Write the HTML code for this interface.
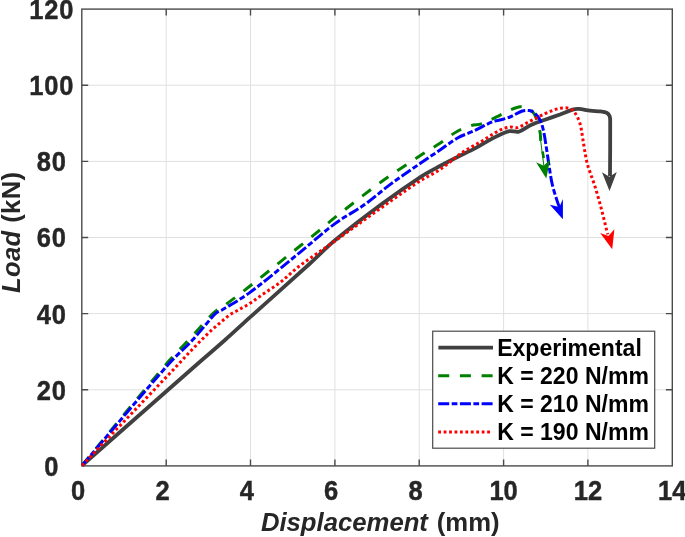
<!DOCTYPE html>
<html><head><meta charset="utf-8"><title>Load vs Displacement</title>
<style>html,body{margin:0;padding:0;background:#fff}svg{display:block}</style></head><body>
<svg width="685" height="537" viewBox="0 0 685 537">
<rect width="685" height="537" fill="#fff"/>
<g stroke="#e0e0e0" stroke-width="1"><line x1="166.2" y1="9.1" x2="166.2" y2="465.9"/><line x1="250.5" y1="9.1" x2="250.5" y2="465.9"/><line x1="334.9" y1="9.1" x2="334.9" y2="465.9"/><line x1="419.2" y1="9.1" x2="419.2" y2="465.9"/><line x1="503.6" y1="9.1" x2="503.6" y2="465.9"/><line x1="587.9" y1="9.1" x2="587.9" y2="465.9"/><line x1="81.8" y1="389.8" x2="672.3" y2="389.8"/><line x1="81.8" y1="313.6" x2="672.3" y2="313.6"/><line x1="81.8" y1="237.5" x2="672.3" y2="237.5"/><line x1="81.8" y1="161.4" x2="672.3" y2="161.4"/><line x1="81.8" y1="85.2" x2="672.3" y2="85.2"/></g>
<path d="M166.2,465.9 v-6.4 M166.2,9.1 v6.4 M250.5,465.9 v-6.4 M250.5,9.1 v6.4 M334.9,465.9 v-6.4 M334.9,9.1 v6.4 M419.2,465.9 v-6.4 M419.2,9.1 v6.4 M503.6,465.9 v-6.4 M503.6,9.1 v6.4 M587.9,465.9 v-6.4 M587.9,9.1 v6.4 M81.8,389.8 h6.4 M672.3,389.8 h-6.4 M81.8,313.6 h6.4 M672.3,313.6 h-6.4 M81.8,237.5 h6.4 M672.3,237.5 h-6.4 M81.8,161.4 h6.4 M672.3,161.4 h-6.4 M81.8,85.2 h6.4 M672.3,85.2 h-6.4" stroke="#4a4a4a" stroke-width="1.4" fill="none"/>
<rect x="81.8" y="9.1" width="590.5" height="456.8" fill="none" stroke="#4a4a4a" stroke-width="1.4"/>
<g fill="none" stroke-linejoin="round">
<path d="M82.0,465.5 C120.5,431.7 158.9,397.8 197.4,364.0 C206.6,356.0 215.9,348.1 225.0,340.0 C233.4,332.6 241.6,324.9 249.9,317.4 C269.9,299.4 290.1,281.6 310.0,263.5 C318.4,255.9 326.2,247.5 335.0,240.3 C350.4,227.6 366.3,215.5 382.4,203.6 C394.7,194.5 407.2,185.7 420.0,177.3 C426.4,173.1 433.3,169.6 440.0,166.0 C445.8,162.9 451.6,159.9 457.5,157.0 C463.3,154.1 469.3,151.4 475.0,148.4 C481.0,145.2 486.6,141.4 492.6,138.4 C498.0,135.7 503.4,132.7 509.2,131.2 C512.3,130.4 515.7,132.6 518.8,131.7 C523.3,130.4 526.8,126.9 531.0,125.0 C535.5,122.9 540.3,121.5 545.0,119.8 C550.0,118.0 555.0,116.3 560.0,114.5 C564.2,112.9 568.3,110.9 572.6,109.6 C574.6,109.0 576.7,108.8 578.7,108.9 C582.5,109.1 586.2,110.3 590.0,110.7 C593.5,111.1 597.1,111.0 600.6,111.4 C602.7,111.7 604.9,111.8 606.7,112.8 C608.1,113.5 609.1,114.9 609.7,116.3 C610.3,117.9 610.2,119.8 610.2,121.5 C610.3,139.7 610.1,157.8 610.0,176.0" stroke="#404040" stroke-width="3.8"/>
<path d="M82.0,465.5 C110.1,431.7 137.8,397.5 166.3,364.0 C173.4,355.7 181.3,348.0 188.7,340.0 C196.6,331.4 204.4,322.5 212.4,314.0 C213.6,312.7 215.0,311.4 216.5,310.4 C217.9,309.4 219.6,309.0 221.0,308.0 C230.8,300.9 240.5,293.5 250.0,286.0 C266.8,272.8 283.3,259.3 300.0,246.0 C306.7,240.7 313.4,235.4 320.0,230.0 C325.1,225.9 329.9,221.4 335.0,217.4 C350.7,205.1 366.3,192.7 382.4,181.0 C394.6,172.1 407.4,164.1 420.0,155.8 C426.6,151.5 433.4,147.5 440.0,143.2 C445.9,139.3 451.3,134.6 457.5,131.2 C462.5,128.5 467.9,126.7 473.3,125.0 C475.5,124.3 478.1,125.0 480.3,124.2 C485.7,122.3 490.8,119.7 496.0,117.2 C500.7,114.9 505.2,112.2 510.0,110.0 C512.2,109.0 514.6,108.2 517.0,107.5 C518.5,107.1 520.0,106.6 521.5,106.6 C523.3,106.5 525.4,106.2 527.0,107.2 C530.0,109.0 533.0,111.4 534.6,114.5 C537.4,119.9 538.6,126.1 540.0,132.0 C540.7,134.9 540.5,137.9 540.7,140.8" stroke="#008000" stroke-width="3" stroke-dasharray="11 10.7"/>
<path d="M540.7,140.8 L544,167" stroke="#008000" stroke-width="1"/>
<path d="M542.6,151.5 L543.7,158" stroke="#008000" stroke-width="2.6"/>
<path d="M82.0,465.5 C110.9,431.7 139.3,397.4 168.7,364.0 C176.1,355.5 184.9,348.3 192.5,340.0 C200.0,331.9 206.7,323.2 214.0,315.0 C215.0,313.9 216.2,312.8 217.5,312.0 C218.9,311.1 220.6,310.8 222.0,310.0 C231.4,304.3 241.1,299.0 250.0,292.4 C267.2,279.7 283.4,265.7 300.0,252.3 C311.7,242.8 322.9,232.6 335.0,223.6 C344.6,216.5 355.3,211.2 365.0,204.3 C373.7,198.2 381.5,190.9 390.0,184.6 C399.8,177.3 410.0,170.5 420.0,163.6 C426.6,159.0 433.3,154.5 440.0,150.0 C445.8,146.0 451.3,141.5 457.5,138.0 C463.0,134.9 469.2,133.1 475.0,130.4 C480.9,127.6 486.5,124.2 492.6,121.7 C495.4,120.6 498.4,120.5 501.3,119.7 C504.2,118.9 507.2,118.2 510.0,117.0 C514.2,115.3 518.0,112.4 522.3,111.0 C524.5,110.3 527.0,110.2 529.3,110.6 C531.2,110.9 533.1,111.9 534.6,113.2 C536.7,115.0 538.6,117.3 539.9,119.8 C541.6,123.1 542.6,126.7 543.4,130.3 C544.9,137.2 545.8,144.3 546.9,151.3 C547.8,157.1 548.6,163.0 549.5,168.8 C550.4,174.2 551.1,179.7 552.4,185.0 C553.8,191.0 555.8,196.8 557.7,202.6 C558.2,204.1 558.8,205.5 559.4,207.0" stroke="#0000ff" stroke-width="3" stroke-dasharray="11 2.5 5.7 2.5"/>
<path d="M82.0,465.5 C114.2,431.7 146.5,397.9 178.7,364.0 C182.9,359.6 186.9,354.9 191.2,350.5 C197.3,344.2 203.4,337.9 209.8,331.8 C213.6,328.2 217.7,324.8 221.7,321.4 C224.6,318.9 227.5,316.4 230.7,314.2 C233.5,312.3 236.7,311.0 239.6,309.3 C243.1,307.3 246.6,305.5 250.0,303.3 C254.6,300.3 259.0,296.9 263.5,293.8 C269.0,290.0 274.7,286.6 280.0,282.5 C286.9,277.2 293.0,270.9 300.0,265.6 C311.4,257.0 323.4,249.3 335.0,241.0 C350.8,229.7 366.5,218.2 382.4,207.0 C394.8,198.2 407.2,189.3 420.0,181.0 C426.4,176.8 433.6,173.8 440.0,169.5 C447.9,164.2 454.9,157.5 462.8,152.2 C469.5,147.7 476.8,144.1 483.8,140.0 C489.1,136.8 494.1,133.0 499.6,130.3 C502.9,128.7 506.4,127.5 510.0,127.0 C512.3,126.7 514.8,128.4 517.0,127.7 C522.0,126.2 526.3,123.0 531.0,120.7 C535.7,118.4 540.3,115.9 545.0,113.7 C548.3,112.2 551.6,110.7 555.0,109.6 C557.3,108.8 559.6,108.3 562.0,108.0 C563.8,107.8 565.6,107.7 567.3,108.0 C569.2,108.4 571.2,108.9 572.6,110.1 C574.5,111.7 575.8,114.1 577.0,116.3 C578.4,119.1 579.7,122.0 580.4,125.0 C581.8,130.8 582.4,136.7 583.4,142.6 C584.4,148.4 585.2,154.2 586.4,160.0 C586.9,162.5 587.6,165.0 588.4,167.5 C590.3,173.4 592.6,179.1 594.5,185.0 C596.7,191.9 598.7,199.0 600.6,206.0 C603.1,215.4 605.3,224.9 607.7,234.4" stroke="#ff0000" stroke-width="3" stroke-dasharray="2.8 2.64"/>
</g>
<polygon points="609.5,191 602,172.3 609.4,176.8 616.8,172" fill="#404040"/>
<polygon points="546.3,178.4 536.1,162.3 543.7,165.8 550.1,159.6" fill="#008000"/>
<polygon points="562.9,219.2 549.8,204.7 559.4,207 562.9,199" fill="#0000ff"/>
<polygon points="612.2,249.3 600.2,232.9 608.4,235.9 614.4,229.2" fill="#ff0000"/>
<g font-family="Liberation Sans, Arial, Helvetica, sans-serif" font-weight="bold" font-size="28.2" fill="#262626" stroke="#262626" stroke-width="0.45" text-anchor="middle">
<text transform="translate(78.1,500) scale(0.905,1)">0</text>
<text transform="translate(162.5,500) scale(0.905,1)">2</text>
<text transform="translate(246.8,500) scale(0.905,1)">4</text>
<text transform="translate(331.2,500) scale(0.905,1)">6</text>
<text transform="translate(415.5,500) scale(0.905,1)">8</text>
<text transform="translate(503.6,500) scale(0.905,1)">10</text>
<text transform="translate(587.9,500) scale(0.905,1)">12</text>
<text transform="translate(672.3,500) scale(0.905,1)">14</text>
<text transform="translate(51.3,475.8) scale(0.905,1)" letter-spacing="0">0</text>
<text transform="translate(51.8,399.7) scale(0.905,1)" letter-spacing="0.9">20</text>
<text transform="translate(51.8,323.5) scale(0.905,1)" letter-spacing="0.9">40</text>
<text transform="translate(51.8,247.4) scale(0.905,1)" letter-spacing="0.9">60</text>
<text transform="translate(51.8,171.3) scale(0.905,1)" letter-spacing="0.9">80</text>
<text transform="translate(51.8,95.1) scale(0.905,1)" letter-spacing="0.9">100</text>
<text transform="translate(51.8,19.0) scale(0.905,1)" letter-spacing="0.9">120</text>
</g>
<text x="260.9" y="531" font-family="Liberation Sans, Arial, Helvetica, sans-serif" font-weight="bold" font-size="25.7" fill="#262626"><tspan font-style="italic">Displacement</tspan><tspan dx="1.7"> (mm)</tspan></text>
<text transform="translate(19.7,293.1) rotate(-90)" font-family="Liberation Sans, Arial, Helvetica, sans-serif" font-weight="bold" font-size="25.7" fill="#262626" letter-spacing="0.35"><tspan font-style="italic">Load</tspan> (kN)</text>
<rect x="432.7" y="331.2" width="222" height="117" fill="#fff" stroke="#4a4a4a" stroke-width="1.2"/>
<g fill="none" stroke-width="3">
<path d="M438.4,347.7 H493" stroke="#404040" stroke-width="3.8"/>
<path d="M438.2,375.8 H493" stroke="#008000" stroke-dasharray="11 10.7"/>
<path d="M438.2,403.7 H493" stroke="#0000ff" stroke-dasharray="11 2.5 5.7 2.5"/>
<path d="M438.2,431.9 H491" stroke="#ff0000" stroke-dasharray="2.8 2.64"/>
</g>
<g font-family="Liberation Sans, Arial, Helvetica, sans-serif" font-weight="bold" font-size="23.7" fill="#000">
<text transform="translate(497.2,355.9) scale(0.972,1)">Experimental</text>
<text transform="translate(497.2,383.9) scale(0.972,1)">K = 220 N/mm</text>
<text transform="translate(497.2,411.9) scale(0.972,1)">K = 210 N/mm</text>
<text transform="translate(497.2,439.9) scale(0.972,1)">K = 190 N/mm</text>
</g>
</svg></body></html>
